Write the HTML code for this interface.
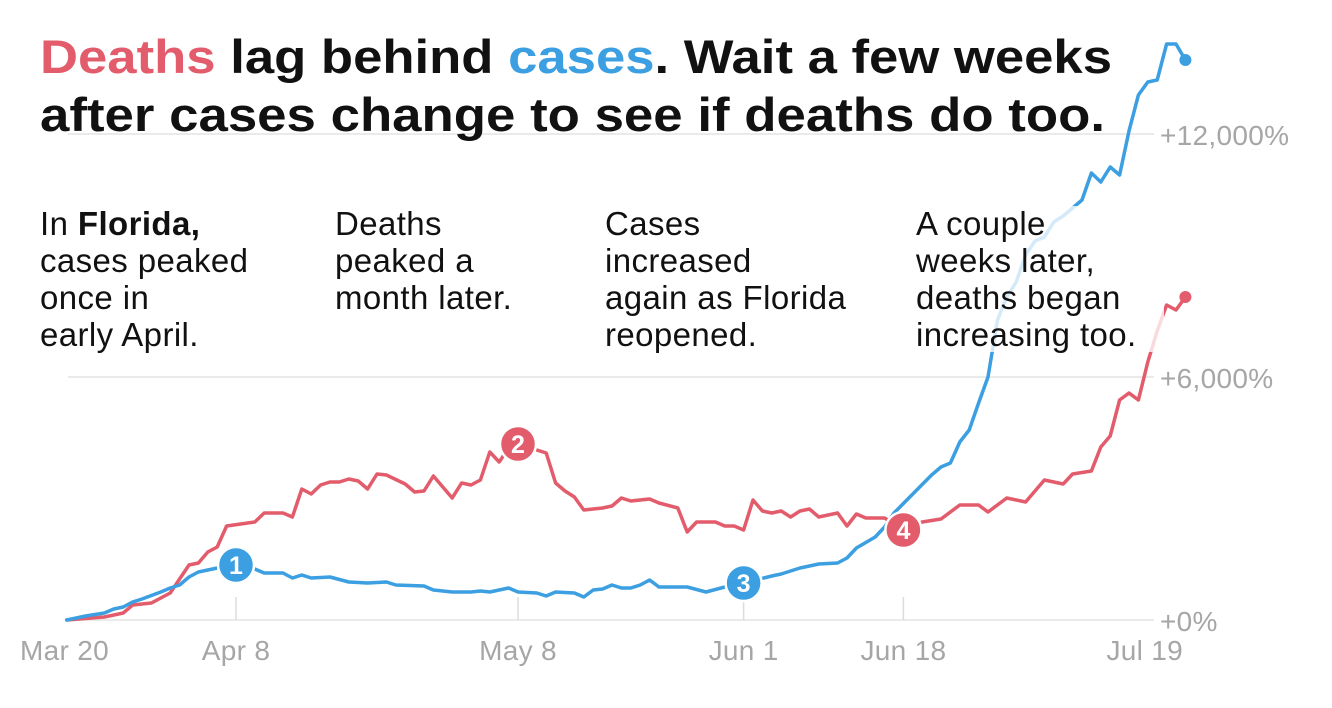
<!DOCTYPE html>
<html><head><meta charset="utf-8">
<style>
html,body{margin:0;padding:0;background:#fff;}
svg{display:block;font-family:"Liberation Sans",sans-serif;}
.ann{font-size:33px;fill:#111;letter-spacing:0.4px;}
.tick{font-size:28px;fill:#a6a6a6;letter-spacing:0.3px;}
</style></head>
<body>
<svg id="chart" width="1332" height="708" viewBox="0 0 1332 708" xmlns="http://www.w3.org/2000/svg">
  <g id="grid"></g>
  <g id="lines"></g>
  <rect x="912" y="206" width="252" height="146" fill="rgba(255,255,255,0.78)"/>
  <g id="markers"></g>
  <text font-weight="bold" font-size="47" fill="#111">
    <tspan x="40" y="73" textLength="1072" lengthAdjust="spacingAndGlyphs"><tspan fill="#e25c6c">Deaths</tspan> lag behind <tspan fill="#3b9fe1">cases</tspan>. Wait a few weeks</tspan>
    <tspan x="40" y="131" textLength="1065" lengthAdjust="spacingAndGlyphs">after cases change to see if deaths do too.</tspan>
  </text>
  <text class="ann">
    <tspan x="40" y="235">In <tspan font-weight="bold">Florida,</tspan></tspan>
    <tspan x="40" y="272">cases peaked</tspan>
    <tspan x="40" y="309">once in</tspan>
    <tspan x="40" y="346">early April.</tspan>
  </text>
  <text class="ann">
    <tspan x="335" y="235">Deaths</tspan>
    <tspan x="335" y="272">peaked a</tspan>
    <tspan x="335" y="309">month later.</tspan>
  </text>
  <text class="ann">
    <tspan x="605" y="235">Cases</tspan>
    <tspan x="605" y="272">increased</tspan>
    <tspan x="605" y="309">again as Florida</tspan>
    <tspan x="605" y="346">reopened.</tspan>
  </text>
  <text class="ann">
    <tspan x="916" y="235">A couple</tspan>
    <tspan x="916" y="272">weeks later,</tspan>
    <tspan x="916" y="309">deaths began</tspan>
    <tspan x="916" y="346">increasing too.</tspan>
  </text>
</svg>
<script>
// days since Mar 20
const casesDays = [1,3,5,6,7,8,9,11,12,13,14,15,17,19,21,22,24,25,26,27,29,31,33,35,36,39,40,42,44,45,46,48,49,51,52,53,55,56,57,58,59,60,61,62,63,64,66,67,69,71,73,76,77,79,81,83,84,85,87,88,89,91,93,94,95,96,97,98,99,100,101,102,103,104,105,106,107,109,110,111,112,113,114,115,116,117,118,119,120];
const casesVals = [0,99,173,272,321,444,518,691,790,864,1062,1185,1284,1358,1259,1160,1160,1037,1111,1037,1062,938,914,938,864,839,741,691,691,716,691,790,691,667,593,691,667,568,741,765,864,790,790,864,988,815,815,815,691,815,914,1086,1136,1284,1383,1407,1531,1778,2049,2296,2642,3111,3580,3778,3876,4395,4691,5358,6000,7400,7975,8345,9012,9358,9456,9827,9975,10370,11036,10814,11185,10987,12073,12962,13283,13333,14221,14221,13826];
const deathsDays = [1,5,7,8,10,12,14,15,16,17,18,21,22,24,25,26,27,28,29,30,31,32,33,34,35,37,38,39,40,41,42,43,44,45,46,47,48,49,51,52,53,54,55,56,58,59,60,61,63,64,66,67,68,70,71,72,73,74,75,76,77,78,79,80,81,83,84,85,86,88,90,92,94,96,98,99,101,103,105,107,108,110,111,112,113,114,115,116,117,118,119,120];
const deathsVals = [0,74,173,370,420,667,1358,1407,1679,1802,2321,2420,2642,2642,2543,3234,3111,3333,3407,3407,3481,3432,3234,3605,3580,3358,3160,3185,3555,3284,3012,3383,3333,3457,4148,3901,4247,4345,4197,4123,3383,3185,3037,2716,2765,2815,3012,2938,2987,2889,2765,2173,2420,2420,2321,2321,2222,2963,2691,2642,2691,2543,2691,2741,2543,2642,2321,2617,2518,2518,2222,2420,2494,2839,2839,2667,3012,2913,3457,3358,3605,3679,4271,4543,5432,5605,5432,6370,7135,7777,7654,7975];
const yTicks = [0,6000,12000];
const yTickLabels = ["+0%","+6,000%","+12,000%"];
const xTickDays = [19,49,73,90];
const xTickLabels = ["Apr 8","May 8","Jun 1","Jun 18"];
const markerLabels = ["1","2","3","4"];
const markerDays = [19,49,73,90];
const markerSeries = ["cases","deaths","cases","deaths"];

const NS="http://www.w3.org/2000/svg";
const X0=57.4, DX=9.4, Y0=620, YS=243/6000;
const RED="#e25c6c", BLUE="#3b9fe1";
function x(d){return X0+DX*d;}
function y(v){return Y0-v*YS;}
function mk(tag,attrs,parent){const e=document.createElementNS(NS,tag);for(const k in attrs)e.setAttribute(k,attrs[k]);parent.appendChild(e);return e;}

const grid=document.getElementById('grid');
yTicks.forEach((t,i)=>{
  const l=mk('line',{x1:68,x2:1154,y1:y(t),y2:y(t),stroke:'#e3e3e3','stroke-width':1.5},grid);
  
  
  const tx=mk('text',{x:1160,y:y(t)+11,class:'tick'},grid);
  tx.textContent=yTickLabels[i];
  
  
});
xTickDays.forEach((d,i)=>{
  const l=mk('line',{x1:x(d),x2:x(d),y1:Y0-23,y2:Y0,stroke:'#dcdcdc','stroke-width':1.5},grid);
  
  
  const tx=mk('text',{x:x(d),y:660,class:'tick','text-anchor':'middle'},grid);
  tx.textContent=xTickLabels[i];
  
  
});
const t1=mk('text',{x:20,y:660,class:'tick'},grid);t1.textContent="Mar 20";


const t2=mk('text',{x:1183,y:660,class:'tick','text-anchor':'end'},grid);t2.textContent="Jul 19";



const lines=document.getElementById('lines');
function drawLine(days,vals,color,name){
  const d=days.map((dd,i)=>(i?'L':'M')+x(dd).toFixed(1)+','+y(vals[i]).toFixed(1)).join('');
  const p=mk('path',{d:d,fill:'none',stroke:color,'stroke-width':3.5,'stroke-linejoin':'round','stroke-linecap':'round'},lines);
  
  
  const n=days.length-1;
  const c=mk('circle',{cx:x(days[n]),cy:y(vals[n]),r:6,fill:color},lines);
  
  
}
drawLine(deathsDays,deathsVals,RED,'deaths');
drawLine(casesDays,casesVals,BLUE,'cases');

const markers=document.getElementById('markers');
function valAt(days,vals,d){const i=days.indexOf(d);return vals[i];}
markerDays.forEach((d,i)=>{
  const isC=markerSeries[i]==='cases';
  const v=isC?valAt(casesDays,casesVals,d):valAt(deathsDays,deathsVals,d);
  const g=mk('g',{},markers);
  
  
  mk('circle',{cx:x(d),cy:y(v),r:18,fill:isC?BLUE:RED,stroke:'#fff','stroke-width':2.5},g);
  const t=mk('text',{x:x(d),y:y(v)+9,'text-anchor':'middle','font-size':25,'font-weight':'bold',fill:'#fff'},g);
  t.textContent=markerLabels[i];
});
</script>
</body></html>
